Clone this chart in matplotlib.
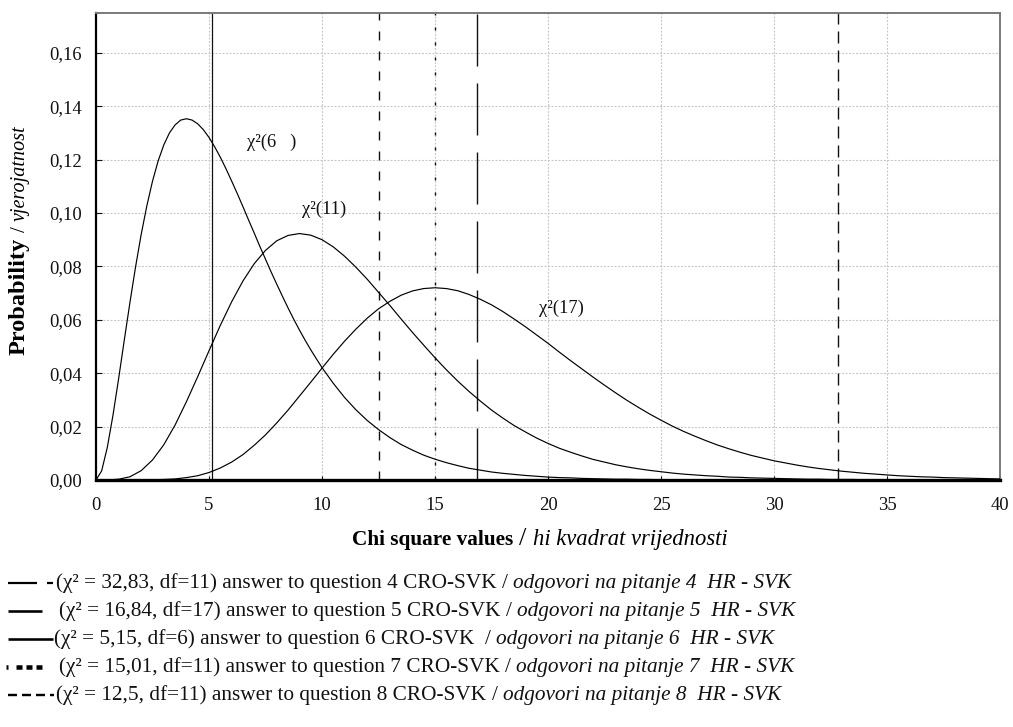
import numpy as np
import matplotlib
matplotlib.use("Agg")
import matplotlib.pyplot as plt
from matplotlib.lines import Line2D
from matplotlib.transforms import IdentityTransform
from matplotlib.ticker import FuncFormatter

plt.rcParams['font.family'] = ['Liberation Serif', 'DejaVu Serif']
plt.rcParams['lines.scale_dashes'] = False

# ---------------- data ----------------
# chi-square(6) curve: finer sampling where it bends sharply
x_df6 = [0.0, 0.25, 0.5, 0.75, 1.0, 1.25, 1.5, 1.75, 2.0, 2.25, 2.5, 2.75, 3.0, 3.25, 3.5,
         3.75, 4.0, 4.25, 4.5, 4.75, 5.0, 5.25, 5.5, 5.75, 6.0, 6.25, 6.5, 6.75, 7.0, 7.25,
         7.5, 7.75, 8.0, 8.25, 8.5, 8.75, 9.0, 9.25, 9.5, 9.75, 10.0,
         10.5, 11.0, 11.5, 12.0, 12.5, 13.0, 13.5, 14.0, 14.5, 15.0, 15.5, 16.0, 16.5, 17.0,
         17.5, 18.0, 18.5, 19.0, 19.5, 20.0, 20.5, 21.0, 21.5, 22.0, 22.5, 23.0, 23.5, 24.0,
         24.5, 25.0, 25.5, 26.0, 26.5, 27.0, 27.5, 28.0, 40.0]
pdf_df6 = [0.0000, 0.0034, 0.0122, 0.0242, 0.0379, 0.0523, 0.0664, 0.0798, 0.0920, 0.1027,
           0.1119, 0.1195, 0.1255, 0.1300, 0.1330, 0.1348, 0.1353, 0.1348, 0.1334, 0.1312,
           0.1283, 0.1248, 0.1209, 0.1166, 0.1120, 0.1073, 0.1024, 0.0974, 0.0925, 0.0875,
           0.0827, 0.0779, 0.0733, 0.0688, 0.0644, 0.0602, 0.0562, 0.0524, 0.0488, 0.0454,
           0.0421,
           0.0362, 0.0309, 0.0263, 0.0223, 0.0189, 0.0159, 0.0133, 0.0112, 0.0093, 0.0078,
           0.0065, 0.0054, 0.0044, 0.0037, 0.0030, 0.0025, 0.0021, 0.0017, 0.0014, 0.0011,
           0.0009, 0.0008, 0.0006, 0.0005, 0.0004, 0.0003, 0.0003, 0.0002, 0.0002, 0.0001,
           0.0001, 0.0001, 0.0001, 0.0001, 0.0000, 0.0000, 0.0000]

x_vals = [0.0, 0.5, 1.0, 1.5, 2.0, 2.5, 3.0, 3.5, 4.0, 4.5, 5.0, 5.5, 6.0, 6.5, 7.0, 7.5,
          8.0, 8.5, 9.0, 9.5, 10.0, 10.5, 11.0, 11.5, 12.0, 12.5, 13.0, 13.5, 14.0, 14.5,
          15.0, 15.5, 16.0, 16.5, 17.0, 17.5, 18.0, 18.5, 19.0, 19.5, 20.0, 20.5, 21.0,
          21.5, 22.0, 22.5, 23.0, 23.5, 24.0, 24.5, 25.0, 25.5, 26.0, 26.5, 27.0, 27.5,
          28.0, 28.5, 29.0, 29.5, 30.0, 30.5, 31.0, 31.5, 32.0, 32.5, 33.0, 33.5, 34.0,
          34.5, 35.0, 35.5, 36.0, 36.5, 37.0, 37.5, 38.0, 38.5, 39.0, 39.5, 40.0]

pdf_df11 = [0.0000, 0.0000, 0.0003, 0.0012, 0.0035, 0.0075, 0.0132, 0.0206, 0.0293, 0.0387,
            0.0484, 0.0579, 0.0667, 0.0745, 0.0810, 0.0860, 0.0896, 0.0916, 0.0923, 0.0917,
            0.0900, 0.0873, 0.0838, 0.0797, 0.0752, 0.0703, 0.0654, 0.0603, 0.0553, 0.0505,
            0.0458, 0.0413, 0.0371, 0.0332, 0.0296, 0.0262, 0.0232, 0.0204, 0.0180, 0.0157,
            0.0137, 0.0119, 0.0104, 0.0090, 0.0077, 0.0067, 0.0057, 0.0049, 0.0042, 0.0036,
            0.0031, 0.0026, 0.0022, 0.0019, 0.0016, 0.0014, 0.0011, 0.0010, 0.0008, 0.0007,
            0.0006, 0.0005, 0.0004, 0.0003, 0.0003, 0.0002, 0.0002, 0.0002, 0.0001, 0.0001,
            0.0001, 0.0001, 0.0001, 0.0000, 0.0000, 0.0000, 0.0000, 0.0000, 0.0000, 0.0000,
            0.0000]

pdf_df17 = [0.0000, 0.0000, 0.0000, 0.0000, 0.0000, 0.0001, 0.0002, 0.0004, 0.0009, 0.0016,
            0.0028, 0.0045, 0.0067, 0.0095, 0.0130, 0.0169, 0.0214, 0.0262, 0.0314, 0.0366,
            0.0419, 0.0471, 0.0520, 0.0565, 0.0606, 0.0641, 0.0669, 0.0692, 0.0708, 0.0717,
            0.0720, 0.0717, 0.0709, 0.0695, 0.0677, 0.0656, 0.0631, 0.0603, 0.0574, 0.0543,
            0.0512, 0.0479, 0.0447, 0.0416, 0.0385, 0.0355, 0.0326, 0.0298, 0.0272, 0.0247,
            0.0224, 0.0202, 0.0182, 0.0164, 0.0147, 0.0131, 0.0117, 0.0104, 0.0092, 0.0082,
            0.0072, 0.0064, 0.0056, 0.0049, 0.0043, 0.0038, 0.0033, 0.0029, 0.0025, 0.0022,
            0.0019, 0.0016, 0.0014, 0.0012, 0.0011, 0.0009, 0.0008, 0.0007, 0.0006, 0.0005,
            0.0004]

curve_labels = ["χ²(6   )", "χ²(11)", "χ²(17)"]
curve_label_x = [6.7, 9.1, 19.6]
curve_label_y = [0.1266, 0.1015, 0.0644]

answer_chi = [32.83, 16.84, 5.15, 15.01, 12.5]
answer_df = [11, 17, 6, 11, 11]
answer_chi_text = ["32,83", "16,84", "5,15", "15,01", "12,5"]
answer_question = [4, 5, 6, 7, 8]

x_ticks = [0, 5, 10, 15, 20, 25, 30, 35, 40]
y_ticks = [0.00, 0.02, 0.04, 0.06, 0.08, 0.10, 0.12, 0.14, 0.16]

# ---------------- figure ----------------
W, H = 1013, 727
DPI = 100
fig = plt.figure(figsize=(W / DPI, H / DPI), dpi=DPI)
fig.patch.set_facecolor('white')

ax_l, ax_r, ax_t, ax_b = 96, 1000, 13, 480
ax = fig.add_axes([ax_l / W, 1 - ax_b / H, (ax_r - ax_l) / W, (ax_b - ax_t) / H])
ax.set_xlim(0, 40)
ax.set_ylim(0, 0.1749)

PX = 0.72  # points per pixel

grid_kw = dict(color='#c8c8c8', linewidth=0.8, linestyle=(0, (2 * PX, 1.5 * PX)), zorder=0)
for xt in x_ticks[1:-1]:
    ax.axvline(xt, **grid_kw)
for yt in y_ticks[1:]:
    ax.axhline(yt, **grid_kw)

ax.plot(x_df6, pdf_df6, color='black', linewidth=0.85, zorder=3)
ax.plot(x_vals, pdf_df11, color='black', linewidth=0.85, zorder=3)
ax.plot(x_vals, pdf_df17, color='black', linewidth=0.85, zorder=3)

vstyles = [
    (0, (12 * PX, 7 * PX)),          # q4 32.83
    (0, (52 * PX, 17 * PX)),         # q5 16.84
    '-',                             # q6 5.15
    (0, (3 * PX, 12 * PX)),          # q7 15.01
    (0, (9 * PX, 11 * PX)),          # q8 12.5
]
vwidths = [1.0, 1.0, 0.9, 1.0, 1.0]
for xv, ls, lw in zip(answer_chi, vstyles, vwidths):
    ax.axvline(xv, color='#111111', linestyle=ls, linewidth=lw, zorder=2)

for s, xl, yl in zip(curve_labels, curve_label_x, curve_label_y):
    ax.text(xl, yl, s, fontsize=13.4, ha='left', va='center', color='#111111')

ax.set_xticks(x_ticks)
ax.set_yticks(y_ticks)
ax.xaxis.set_major_formatter(FuncFormatter(lambda v, p: f"{v:.0f}"))
ax.yaxis.set_major_formatter(FuncFormatter(lambda v, p: f"{v:.2f}".replace('.', ',')))
ax.tick_params(axis='both', labelsize=13.4, colors='#111111')
ax.tick_params(axis='y', direction='in', length=4, width=0.8, pad=10)
ax.tick_params(axis='x', direction='in', length=3, width=0.8, pad=12)

ax.spines['left'].set_linewidth(1.6)
ax.spines['left'].set_color('black')
ax.spines['bottom'].set_linewidth(2.4)
ax.spines['bottom'].set_color('black')
ax.spines['top'].set_linewidth(1.4)
ax.spines['top'].set_color('#7a7a7a')
ax.spines['right'].set_linewidth(1.4)
ax.spines['right'].set_color('#7a7a7a')

renderer = fig.canvas.get_renderer()
ID = IdentityTransform()


def width_of(s, **kw):
    t = fig.text(0, 0, s, transform=ID, **kw)
    w = t.get_window_extent(renderer).width
    t.remove()
    return w


def space_w(**kw):
    return width_of("x x", **kw) - width_of("xx", **kw)


def rich_h(x_px, y_base_top, parts, center=False):
    """parts: list of (string, kwargs, gap_after_in_spaces)"""
    texts = []
    x = x_px
    for s, kw, gap in parts:
        t = fig.text(x, H - y_base_top, s, transform=ID, ha='left', va='baseline', **kw)
        bb = t.get_window_extent(renderer)
        texts.append(t)
        x = bb.x1 + gap * space_w(**kw)
    if center:
        total = x - x_px
        shift = -total / 2
        for t in texts:
            px, py = t.get_position()
            t.set_position((px + shift, py))
    return texts


def rich_v(x_base, y_center_top, parts):
    texts = []
    y = 0.0
    for s, kw, gap in parts:
        t = fig.text(x_base, y, s, transform=ID, ha='left', va='baseline',
                     rotation=90, rotation_mode='anchor', **kw)
        bb = t.get_window_extent(renderer)
        texts.append(t)
        y = bb.y1 + gap * space_w(**kw)
    total = y
    y0 = (H - y_center_top) - total / 2
    for t in texts:
        px, py = t.get_position()
        t.set_position((px, py + y0))
    return texts


rich_h(540, 545, [
    ("Chi square values", dict(fontsize=15.3, fontweight='bold'), 1),
    ("/", dict(fontsize=19), 1),
    ("hi kvadrat vrijednosti", dict(fontsize=16.3, fontstyle='italic'), 0),
], center=True)

rich_v(25, 240, [
    ("Probability", dict(fontsize=17.5, fontweight='bold'), 1),
    ("/", dict(fontsize=15), 1),
    ("vjerojatnost", dict(fontsize=14.5, fontstyle='italic'), 0),
])

# ---------------- legend (manual, below the plot) ----------------
LEG = 15.3
row_y = [583, 611, 639, 667, 695]
text_x = [56, 59, 54, 59, 56]
samples = [
    dict(x0=8, x1=53, lw=2.2, dashes=(29 * PX, 10 * PX, 6 * PX, 60 * PX)),
    dict(x0=8, x1=42, lw=2.6, dashes=None),
    dict(x0=8, x1=53, lw=2.6, dashes=None),
    dict(x0=6, x1=43, lw=4.5, dashes=(2 * PX, 8 * PX, 6 * PX, 4 * PX, 6 * PX, 4 * PX, 6 * PX, 60 * PX)),
    dict(x0=8, x1=54, lw=2.4, dashes=(9 * PX, 5 * PX)),
]
slash_sep = [1, 1, 2, 1, 1]
for i in range(5):
    yv = H - row_y[i]
    smp = samples[i]
    ln = Line2D([smp['x0'], smp['x1']], [yv, yv], transform=ID, color='black',
                linewidth=smp['lw'] * PX, solid_capstyle='butt', dash_capstyle='butt')
    if smp['dashes'] is not None:
        ln.set_dashes(smp['dashes'])
    fig.add_artist(ln)
    reg = dict(fontsize=LEG, color='#111111')
    ita = dict(fontsize=LEG, fontstyle='italic', color='#111111')
    first = (f"(χ² = {answer_chi_text[i]}, df={answer_df[i]}) answer to question "
             f"{answer_question[i]} CRO-SVK")
    rich_h(text_x[i], row_y[i] + 5, [
        (first, reg, slash_sep[i]),
        ("/", reg, 1),
        (f"odgovori na pitanje {answer_question[i]}  HR - SVK", ita, 0),
    ])

fig.savefig("out.png", dpi=DPI, facecolor='white')
